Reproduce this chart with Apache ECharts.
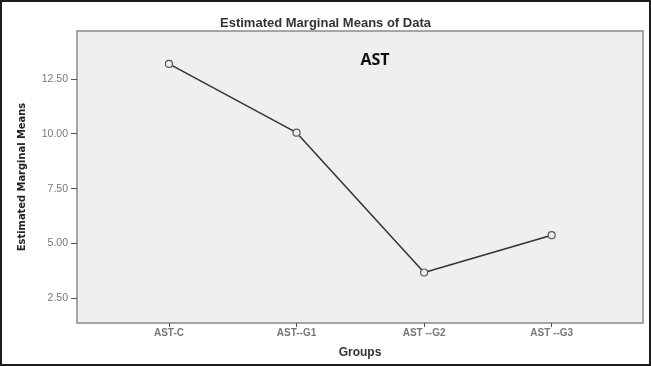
<!DOCTYPE html>
<html><head><meta charset="utf-8">
<script src="https://cdn.jsdelivr.net/npm/echarts@6/dist/echarts.min.js"></script>
<style>html,body{margin:0;padding:0;background:#fff}#c{width:651px;height:366px}</style>
</head><body><div id="c"></div>
<script>
const categories = ['AST-C', 'AST--G1', 'AST --G2', 'AST --G3'];
const means = [13.18, 10.05, 3.68, 5.38];
const yTicks = [2.5, 5, 7.5, 10, 12.5];
const xTicks = [0, 1, 2, 3];

const chart = echarts.init(document.getElementById('c'), null, {renderer: 'canvas'});
chart.setOption({
  animation: false,
  backgroundColor: '#ffffff',
  title: [
    {text: 'Estimated Marginal Means of Data', left: 'center', top: 12,
     textStyle: {fontFamily: 'Liberation Sans, Arial', fontSize: 13, fontWeight: 'bold', color: '#333'}},
    {text: 'AST', left: 370, top: 47, textAlign: 'center',
     textStyle: {fontFamily: 'Open Sans, Liberation Sans', fontSize: 16, fontWeight: 'bold', color: '#111'}}
  ],
  graphic: [{type: 'rect', shape: {x: 1, y: 1, width: 649, height: 364},
    style: {fill: 'none', stroke: '#1c1c1c', lineWidth: 2}, z: 100}],
  grid: {left: 77, right: 8, top: 31, bottom: 43, show: true,
    backgroundColor: '#efefef', borderColor: '#8a8a8a', borderWidth: 1.5},
  xAxis: {
    type: 'value', min: -0.721, max: 3.716,
    name: 'Groups', nameLocation: 'middle', nameGap: 24,
    nameTextStyle: {fontFamily: 'Liberation Sans, Arial', fontSize: 12, fontWeight: 'bold', color: '#333'},
    splitLine: {show: false},
    axisLine: {show: false, onZero: false},
    axisTick: {show: true, length: 4, inside: false, customValues: xTicks, lineStyle: {color: '#555'}},
    axisLabel: {customValues: xTicks, formatter: v => categories[Math.round(v)], margin: 5,
      fontFamily: 'Liberation Sans, Arial', fontSize: 10, fontWeight: 'bold', color: '#777'}
  },
  yAxis: {
    type: 'value', min: 1.38, max: 14.68,
    name: 'Estimated Marginal Means', nameLocation: 'middle', nameGap: 49, nameRotate: 90,
    nameTextStyle: {fontFamily: 'Liberation Sans Narrow, DejaVu Sans Condensed, Liberation Sans', fontSize: 11, fontWeight: 'bold', color: '#222'},
    splitLine: {show: false},
    axisLine: {show: false, onZero: false},
    axisTick: {show: true, length: 6, customValues: yTicks, lineStyle: {color: '#555'}},
    axisLabel: {customValues: yTicks, formatter: v => v.toFixed(2), margin: 9,
      fontFamily: 'Liberation Sans, Arial', fontSize: 10.5, color: '#777'}
  },
  series: [{
    type: 'line',
    data: means.map((m, i) => [xTicks[i], m]),
    symbol: 'circle', symbolSize: 7,
    lineStyle: {color: '#333', width: 1.5},
    itemStyle: {color: '#efefef', borderColor: '#555', borderWidth: 1.2}
  }]
});
</script></body></html>
